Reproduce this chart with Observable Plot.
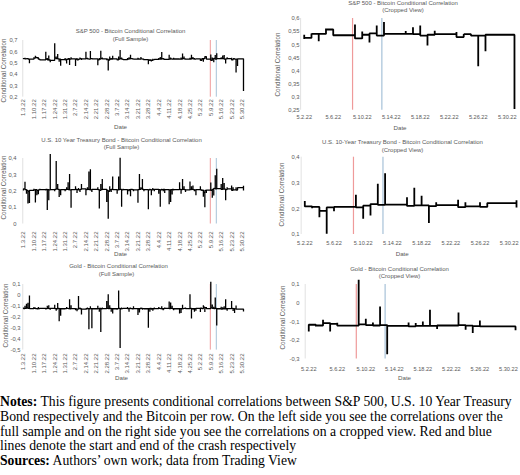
<!DOCTYPE html>
<html>
<head>
<meta charset="utf-8">
<script src="https://cdn.jsdelivr.net/npm/d3@7"></script>
<script src="https://cdn.jsdelivr.net/npm/@observablehq/plot@0.6"></script>
<style>
  html, body { margin: 0; padding: 0; background: #fff; }
  #page { position: relative; width: 520px; height: 475px; overflow: hidden; background: #fff; }
  #page svg { position: absolute; }
  .notes {
    position: absolute; left: 0; top: 395px; width: 520px;
    font-family: "Liberation Serif", "Times New Roman", serif;
    font-size: 13.7px; line-height: 14.8px; color: #000; white-space: nowrap;
  }
</style>
</head>
<body>
<div id="page"></div>
<script>
// Trading days of the sample (Jan 3 – May 31, 2022)
const tradingDays = [
  "2022-01-03","2022-01-04","2022-01-05","2022-01-06","2022-01-07","2022-01-10","2022-01-11","2022-01-12","2022-01-13","2022-01-14",
  "2022-01-18","2022-01-19","2022-01-20","2022-01-21","2022-01-24","2022-01-25","2022-01-26","2022-01-27","2022-01-28","2022-01-31",
  "2022-02-01","2022-02-02","2022-02-03","2022-02-04","2022-02-07","2022-02-08","2022-02-09","2022-02-10","2022-02-11","2022-02-14",
  "2022-02-15","2022-02-16","2022-02-17","2022-02-18","2022-02-22","2022-02-23","2022-02-24","2022-02-25","2022-02-28",
  "2022-03-01","2022-03-02","2022-03-03","2022-03-04","2022-03-07","2022-03-08","2022-03-09","2022-03-10","2022-03-11","2022-03-14",
  "2022-03-15","2022-03-16","2022-03-17","2022-03-18","2022-03-21","2022-03-22","2022-03-23","2022-03-24","2022-03-25","2022-03-28",
  "2022-03-29","2022-03-30","2022-03-31",
  "2022-04-01","2022-04-04","2022-04-05","2022-04-06","2022-04-07","2022-04-08","2022-04-11","2022-04-12","2022-04-13","2022-04-14",
  "2022-04-18","2022-04-19","2022-04-20","2022-04-21","2022-04-22","2022-04-25","2022-04-26","2022-04-27","2022-04-28","2022-04-29",
  "2022-05-02","2022-05-03","2022-05-04","2022-05-05","2022-05-06","2022-05-09","2022-05-10","2022-05-11","2022-05-12","2022-05-13",
  "2022-05-16","2022-05-17","2022-05-18","2022-05-19","2022-05-20","2022-05-23","2022-05-24","2022-05-25","2022-05-26","2022-05-27",
  "2022-05-31"
];

// S&P 500 – Bitcoin: level at the end of each day, and the day's extreme value
const spClose = [
  .540,.538,.540,.536,.535,.545,.550,.548,.535,.530,.535,.530,.528,.525,.545,.540,.538,.535,.532,.530,
  .535,.540,.535,.538,.535,.530,.535,.540,.538,.540,.538,.535,.540,.538,.530,.535,.540,.538,.535,
  .528,.535,.535,.538,.530,.535,.540,.535,.532,.535,.538,.540,.538,.535,.537,.535,.538,.535,.532,.530,.528,.525,.530,
  .533,.535,.537,.538,.535,.533,.535,.538,.535,.537,.535,.537,.540,.538,.535,.537,.540,.538,.535,.538,
  .526,.541,.541,.558,.536,.524,.538,.543,.535,.541,.541,.540,.535,.538,.540,.529,.540,.535,.535,.538,.255
];
const spSpike = [
  .545,.548,.535,.545,.500,.552,.566,.555,.540,.525,.600,.545,.568,.508,.676,.560,.580,.512,.478,.545,
  .498,.528,.485,.552,.475,.545,.540,.550,.528,.600,.548,.540,.607,.545,.482,.545,.610,.550,.525,
  .435,.560,.545,.565,.525,.560,.617,.550,.528,.545,.552,.575,.545,.540,.548,.530,.555,.540,.525,.490,.520,.515,.540,
  .528,.545,.555,.598,.545,.528,.575,.550,.530,.548,.540,.550,.585,.560,.530,.548,.575,.555,.545,.532,
  .522,.543,.513,.562,.536,.577,.550,.508,.573,.587,.552,.567,.573,.497,.553,.548,.541,.535,.418,.475,.255
];

// U.S. 10 Year Treasury Bond – Bitcoin
const tyClose = [
  .215,.210,.205,.200,.205,.208,.210,.205,.208,.210,.212,.210,.208,.210,.212,.215,.212,.208,.210,.210,
  .212,.210,.208,.210,.212,.210,.208,.212,.215,.210,.212,.210,.208,.212,.210,.205,.210,.212,.205,
  .200,.210,.212,.210,.208,.210,.212,.208,.210,.208,.210,.212,.210,.208,.210,.212,.215,.212,.210,.208,.210,.208,.210,
  .212,.210,.208,.210,.212,.210,.208,.210,.212,.210,.212,.210,.212,.210,.208,.210,.212,.210,.208,.210,
  .209,.207,.192,.205,.207,.205,.212,.218,.215,.216,.211,.213,.213,.210,.214,.206,.209,.209,.207,.222,.205
];
const tySpike = [
  .205,.258,.185,.125,.128,.215,.132,.175,.182,.215,.205,.085,.145,.428,.200,.385,.245,.165,.175,.200,
  .225,.255,.305,.100,.230,.190,.220,.195,.245,.175,.225,.320,.335,.195,.225,.095,.245,.275,.135,
  .032,.230,.195,.290,.185,.290,.405,.105,.215,.180,.200,.170,.215,.200,.130,.305,.225,.275,.200,.090,.215,.175,.220,
  .200,.185,.105,.215,.200,.190,.120,.135,.180,.205,.255,.185,.275,.230,.195,.260,.230,.235,.200,.175,
  .230,.202,.167,.103,.190,.254,.161,.174,.297,.338,.245,.281,.250,.145,.225,.235,.225,.212,.225,.222,.233
];

// Gold – Bitcoin
const gdClose = [
  -.120,-.118,-.115,-.118,-.120,-.118,-.120,-.122,-.120,-.118,-.120,-.118,-.120,-.118,-.120,-.122,-.118,-.120,-.122,-.120,
  -.118,-.120,-.122,-.120,-.123,-.125,-.120,-.122,-.125,-.122,-.120,-.122,-.120,-.122,-.120,-.118,-.122,-.120,-.118,
  -.120,-.118,-.120,-.122,-.120,-.118,-.122,-.120,-.118,-.120,-.118,-.120,-.122,-.120,-.122,-.120,-.118,-.120,-.122,-.120,-.118,-.120,-.122,
  -.120,-.118,-.120,-.122,-.120,-.118,-.120,-.118,-.120,-.122,-.120,-.122,-.120,-.118,-.120,-.118,-.120,-.122,-.120,-.118,
  -.116,-.120,-.107,-.111,-.121,-.114,-.118,-.120,-.118,-.122,-.125,-.122,-.122,-.122,-.120,-.118,-.121,-.123,-.125,-.125,-.125
];
const gdSpike = [
  -.110,-.095,-.075,-.068,.000,-.105,-.110,-.115,-.105,-.112,-.128,-.095,-.090,-.130,-.085,-.140,-.070,-.235,-.185,-.115,
  -.105,-.125,-.035,-.090,-.135,-.145,-.005,-.110,-.175,-.130,-.110,-.310,-.100,-.300,-.095,-.150,-.335,-.110,-.050,
  .010,-.090,-.150,-.165,-.130,.045,-.480,-.110,-.125,-.105,-.150,-.110,-.125,-.100,-.180,-.155,-.110,-.130,-.115,-.295,-.150,-.130,-.140,
  -.110,-.105,-.125,-.100,-.135,-.110,-.055,-.065,-.095,-.135,-.165,-.160,-.085,-.125,-.110,.010,-.210,-.130,-.150,-.140,
  -.152,-.125,-.089,-.152,-.105,.125,-.084,-.104,-.018,-.275,-.104,-.107,-.098,-.036,-.139,-.050,-.143,-.161,-.093,-.130,-.146
];

// Start (red) and end (blue) of the crash
const crashStart = "2022-05-08T16:00:00Z";
const crashEnd = "2022-05-12T17:00:00Z";

// Axis ticks
const fullTicks = ["2022-01-03","2022-01-10","2022-01-17","2022-01-24","2022-01-31","2022-02-07","2022-02-14","2022-02-21",
  "2022-02-28","2022-03-07","2022-03-14","2022-03-21","2022-03-28","2022-04-04","2022-04-11","2022-04-18","2022-04-25",
  "2022-05-02","2022-05-09","2022-05-16","2022-05-23","2022-05-30"];
const cropTicks = ["2022-05-02","2022-05-06","2022-05-10","2022-05-14","2022-05-18","2022-05-22","2022-05-26","2022-05-30"];
const spTicks = [0.2, 0.3, 0.4, 0.5, 0.6, 0.7];
const spCropTicks = [0.25, 0.3, 0.35, 0.4, 0.45, 0.5, 0.55, 0.6];
const tyTicks = [0, 0.1, 0.2, 0.3, 0.4];
const tyCropTicks = [0.1, 0.2, 0.3, 0.4];
const gdTicks = [-0.5, -0.4, -0.3, -0.2, -0.1, 0, 0.1];
const gdCropTicks = [-0.3, -0.2, -0.1, 0, 0.1];

const parse = s => new Date(s.length > 10 ? s : s + "T00:00:00Z");
const fmtDate = d3.utcFormat("%-m.%-d.%y");
const fmtNum = v => String(Math.round(v * 100) / 100).replace(".", ",");
const INK = "#595959";
const FONT = '"Liberation Sans", Arial, sans-serif';
const RED = "#ef9a9a";
const BLUE = "#a7c2d8";
const fullDomain = [parse("2022-01-02T12:00:00Z"), parse("2022-05-31T12:00:00Z")];
const cropDomain = [parse("2022-05-01T12:00:00Z"), parse("2022-05-31T12:00:00Z")];
const page = document.getElementById("page");

// Intraday path: previous level -> day's extreme -> day's closing level, all on the same date
function path(close, spike, from) {
  const out = [];
  tradingDays.forEach((s, i) => {
    const t = parse(s);
    if (t < from) return;
    const prev = i > 0 ? close[i - 1] : close[i];
    out.push({t, v: prev}, {t, v: spike[i]}, {t, v: close[i]});
  });
  return out;
}

function panel(c) {
  const [fx0, fx1, fy0, fy1] = c.frame; // frame edges in page pixels
  const at = (x, y) => ({frameAnchor: "top-left", dx: x - fx0, dy: y - fy0});
  const label = (str, [x, y], extra = {}) => Plot.text([str], {
    ...at(x, y), text: d => d, fill: INK, fontSize: 6,
    textAnchor: "middle", lineAnchor: "middle", ...extra
  });
  const svg = Plot.plot({
    width: c.width, height: c.height,
    marginLeft: fx0 - c.left, marginRight: c.left + c.width - fx1,
    marginTop: fy0 - c.top, marginBottom: c.top + c.height - fy1,
    style: {fontFamily: FONT, fontSize: "5.8px", color: INK, background: "transparent", overflow: "visible"},
    x: {type: "utc", domain: c.xDomain},
    y: {domain: c.yDomain},
    marks: [
      Plot.ruleX([c.xDomain[0]], {stroke: "#d9d9d9", strokeWidth: 0.8}),
      Plot.ruleX([parse(crashStart)], {stroke: RED, strokeWidth: c.ruleWidth}),
      Plot.ruleX([parse(crashEnd)], {stroke: BLUE, strokeWidth: c.ruleWidth}),
      Plot.line(c.data, {x: "t", y: "v", stroke: "#000", strokeWidth: c.lineWidth,
        strokeLinejoin: "miter", strokeLinecap: "butt"}),
      Plot.axisY(c.yTicks, {tickFormat: fmtNum, tickSize: 0, tickPadding: c.yPad, label: null, fontSize: 5.8}),
      Plot.axisX(c.xTicks.map(parse), {tickFormat: fmtDate, tickSize: 0, tickPadding: c.xPad,
        tickRotate: c.rotate, label: null, fontSize: c.xFont}),
      label(c.title, c.titleAt),
      label(c.subtitle, c.subAt),
      label("Date", c.dateAt, {fontSize: 6.2}),
      label("Conditional Correlation", c.yLabelAt, {rotate: -90, fontSize: 6.3})
    ]
  });
  svg.style.left = c.left + "px";
  svg.style.top = c.top + "px";
  page.appendChild(svg);
}

const full = {left: 0, width: 260, xDomain: fullDomain, xTicks: fullTicks, rotate: -90, xFont: 6,
  lineWidth: 1.3, ruleWidth: 1, subtitle: "(Full Sample)"};
const crop = {left: 260, width: 260, xDomain: cropDomain, xTicks: cropTicks, rotate: 0, xFont: 5.6,
  lineWidth: 1.8, ruleWidth: 1.2, subtitle: "(Cropped View)"};
const mayStart = parse("2022-05-02");
const allStart = parse("2022-01-01");

panel({...full, top: 22, height: 112, frame: [22.26, 243.74, 40, 96.7],
  yDomain: [0.2, 0.7], yTicks: spTicks, yPad: 5.3, xPad: 2,
  data: path(spClose, spSpike, allStart),
  title: "S&P 500 - Bitcoin Conditional Correlation",
  titleAt: [130, 30.7], subAt: [130, 38.3], dateAt: [120, 126.7], yLabelAt: [3.5, 70]});

panel({...crop, top: 0, height: 134, frame: [300.1, 517.6, 18, 109.7],
  yDomain: [0.25, 0.6], yTicks: spCropTicks, yPad: 1.1, xPad: 4.5,
  data: path(spClose, spSpike, mayStart),
  title: "S&P 500 - Bitcoin Conditional Correlation",
  titleAt: [402.5, 3], subAt: [402.5, 10], dateAt: [399.5, 127.5], yLabelAt: [277.5, 64]});

panel({...full, top: 134, height: 126, frame: [22.26, 243.74, 158, 223.5],
  yDomain: [0, 0.4], yTicks: tyTicks, yPad: 6.3, xPad: 7.5,
  data: path(tyClose, tySpike, allStart),
  title: "U.S. 10 Year Treasury Bond - Bitcoin Conditional Correlation",
  titleAt: [121, 140], subAt: [121, 146.7], dateAt: [120, 253.3], yLabelAt: [3.5, 187]});

panel({...crop, top: 134, height: 126, frame: [300.65, 519.65, 156.7, 234],
  yDomain: [0.1, 0.4], yTicks: tyCropTicks, yPad: 1.65, xPad: 6.7,
  data: path(tyClose, tySpike, mayStart),
  title: "U.S. 10-Year Treasury Bond - Bitcoin Conditional Correlation",
  titleAt: [402, 141.7], subAt: [402, 150], dateAt: [401.7, 253.3], yLabelAt: [281.7, 194]});

panel({...full, top: 260, height: 125, frame: [22.26, 243.74, 284, 349.6],
  yDomain: [-0.5, 0.1], yTicks: gdTicks, yPad: 2.3, xPad: 3.4,
  data: path(gdClose, gdSpike, allStart),
  title: "Gold - Bitcoin Conditional Correlation",
  titleAt: [118, 265.7], subAt: [116, 274], dateAt: [121, 377.3], yLabelAt: [5, 315]});

panel({...crop, top: 260, height: 125, frame: [304.7, 518.6, 284, 358.5],
  yDomain: [-0.3, 0.1], yTicks: gdCropTicks, yPad: 5.7, xPad: 7.7,
  data: path(gdClose, gdSpike, mayStart),
  title: "Gold - Bitcoin Conditional Correlation",
  titleAt: [399, 268.5], subAt: [399, 276], dateAt: [404, 377.7], yLabelAt: [282.7, 317]});

// Notes under the figure
const notes = document.createElement("div");
notes.className = "notes";
notes.innerHTML =
  "<b>Notes:</b> This figure presents conditional correlations between S&amp;P 500, U.S. 10 Year Treasury<br>" +
  "Bond respectively and the Bitcoin per row. On the left side you see the correlations over the<br>" +
  "full sample and on the right side you see the correlations on a cropped view. Red and blue<br>" +
  "lines denote the start and end of the crash respectively<br>" +
  "<b>Sources:</b> Authors\u2019 own work; data from Trading View";
page.appendChild(notes);
</script>
</body>
</html>
